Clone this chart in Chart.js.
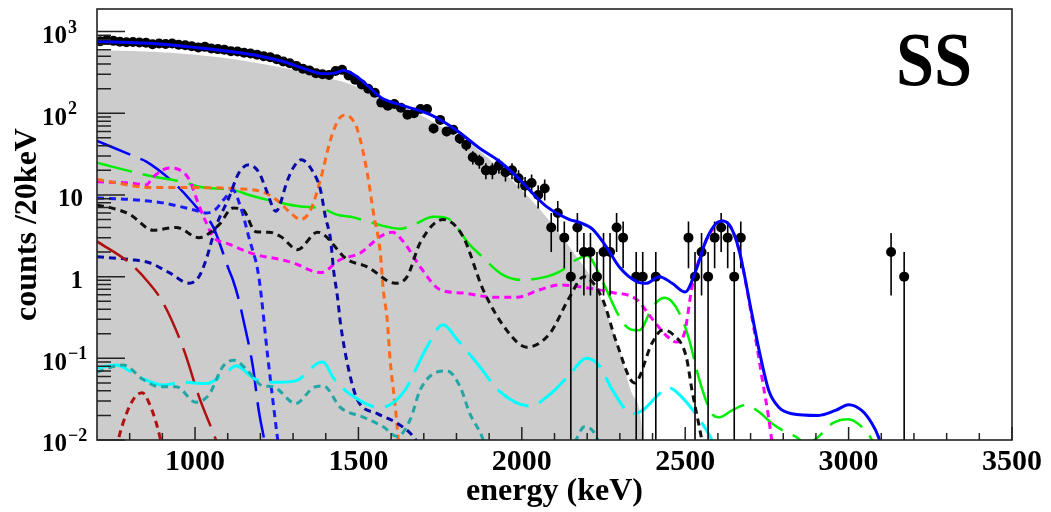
<!DOCTYPE html>
<html>
<head>
<meta charset="utf-8">
<script src="https://cdn.jsdelivr.net/npm/chart.js@4.4.1/dist/chart.umd.min.js"></script>
<style>
  html, body { margin: 0; padding: 0; background: #fff; }
  #wrap { width: 1051px; height: 512px; }
</style>
</head>
<body>
<div id="wrap"><canvas id="spectrum" width="1051" height="512"></canvas></div>
<script>
// axis ticks
var X_TICKS = [1000, 1500, 2000, 2500, 3000, 3500];
var Y_TICKS = [0.01, 0.1, 1, 10, 100, 1000];
var Y_TICK_BASE = ['10', '10', '1', '10', '10', '10'];
var Y_TICK_EXP = ['-2', '-1', '', '', '2', '3'];

// measured spectrum, counts per 20 keV bin
var DATA_E = [710, 730, 750, 770, 790, 810, 830, 850, 870, 890, 910, 930, 950, 970, 990,
  1010, 1030, 1050, 1070, 1090, 1110, 1130, 1150, 1170, 1190, 1210, 1230, 1250, 1270, 1290,
  1310, 1330, 1350, 1370, 1390, 1410, 1430, 1450, 1470, 1490, 1510, 1530, 1550, 1570, 1590,
  1610, 1630, 1650, 1670, 1690, 1710, 1730, 1750, 1770, 1790, 1810, 1830, 1850, 1870, 1890,
  1910, 1930, 1950, 1970, 1990, 2010, 2030, 2050, 2070, 2090, 2110, 2130, 2150, 2170, 2190,
  2210, 2230, 2250, 2270, 2290, 2310, 2350, 2370, 2410, 2510, 2530, 2550, 2570, 2590, 2610,
  2630, 2650, 2670, 3130, 3170];
var DATA_N = [760, 790, 770, 750, 740, 745, 735, 730, 700, 715, 705, 715, 690, 680, 660,
  640, 650, 620, 610, 600, 575, 570, 550, 540, 520, 500, 485, 460, 430, 410,
  380, 350, 335, 310, 300, 295, 330, 340, 290, 258, 225, 200, 178, 135, 124,
  130, 117, 96, 100, 113, 113, 65, 83, 60, 63, 49, 41, 29, 26, 20,
  20, 23, 19, 20, 16, 13, 14, 10, 12, 4, 6, 3, 1, 4, 2,
  2, 1, 2, 2, 4, 3, 1, 1, 1, 3, 1, 2, 1, 3, 4,
  3, 1, 3, 2, 1];

// total fit
var TOTAL_E = [700, 750, 800, 900, 1000, 1100, 1200, 1270, 1340, 1390, 1425, 1455, 1490, 1530,
  1570, 1620, 1720, 1800, 1872, 1930, 1994, 2040, 2076, 2146, 2177, 2217, 2259, 2299, 2351,
  2381, 2421, 2460, 2500, 2533, 2564, 2595, 2615, 2640, 2665, 2704, 2726, 2756, 2787, 2826,
  2908, 2960, 3000, 3040, 3071, 3091, 3110];
var TOTAL_V = [750, 745, 735, 700, 640, 575, 500, 430, 345, 305, 310, 335, 290, 215,
  155, 130, 96, 62, 37, 26, 15.4, 9.8, 7.2, 5.0, 4.6, 3.8, 2.3, 1.3, 0.87,
  0.83, 1.0, 0.83, 0.65, 1.2, 2.8, 4.5, 4.8, 4.0, 2.1, 0.35, 0.126, 0.04, 0.025, 0.021,
  0.02, 0.023, 0.027, 0.023, 0.016, 0.011, 0.006];

// grey filled component
var GREY_E = [700, 850, 1000, 1150, 1300, 1400, 1450, 1550, 1650, 1750, 1850, 1950, 2050,
  2150, 2230, 2300, 2340, 2370, 2375];
var GREY_V = [590, 570, 520, 440, 340, 270, 245, 170, 115, 70, 40, 18, 7,
  2.2, 0.7, 0.12, 0.035, 0.01, 0.001];

// fit components
var BLUE_LD_E = [700, 820, 851, 942, 1003, 1055, 1104, 1116, 1134, 1146, 1177, 1195, 1212, 1230];
var BLUE_LD_V = [46, 29, 25.6, 13.3, 7.2, 4.1, 1.2, 0.91, 0.52, 0.32, 0.079, 0.023, 0.01, 0.004];

var GREEN_E = [700, 820, 860, 973, 1012, 1125, 1165, 1262, 1323, 1384, 1436, 1476, 1588, 1628,
  1668, 1729, 1771, 1841, 1872, 1942, 2003, 2076, 2116, 2168, 2200, 2247, 2299, 2329, 2360,
  2399, 2436, 2460, 2491, 2512, 2543, 2582, 2604, 2643, 2686, 2726, 2765, 2800, 2838, 2870,
  2908, 2950, 3000, 3036, 3071, 3090];
var GREEN_V = [24.8, 18.7, 17.2, 14.1, 12.6, 11.3, 10, 8.0, 7.2, 6.9, 5.7, 5.4, 4.07, 3.85,
  4.3, 5.4, 5.2, 2.45, 1.86, 1.05, 0.91, 1.0, 1.15, 1.62, 1.8, 0.87, 0.32, 0.23, 0.22,
  0.42, 0.55, 0.49, 0.30, 0.17, 0.055, 0.021, 0.019, 0.023, 0.027, 0.022, 0.016, 0.013, 0.011, 0.009,
  0.011, 0.016, 0.018, 0.015, 0.01, 0.006];

var ORANGE_E = [700, 759, 829, 902, 1003, 1125, 1207, 1256, 1299, 1323, 1354, 1384, 1415, 1440,
  1460, 1480, 1497, 1527, 1546, 1567, 1576, 1588, 1597, 1613, 1622, 1630];
var ORANGE_V = [15.5, 14.1, 12.6, 12.3, 12.3, 11.9, 10.9, 8.3, 5.7, 5.0, 6.6, 15.5, 48, 85,
  95, 85, 63, 18.6, 6.0, 1.95, 0.69, 0.30, 0.095, 0.025, 0.01, 0.004];

var MAGENTA_E = [700, 800, 851, 872, 921, 951, 982, 1009, 1034, 1055, 1104, 1186, 1262, 1299,
  1384, 1445, 1506, 1567, 1604, 1637, 1689, 1750, 1820, 1912, 1985, 2055, 2116, 2177, 2277,
  2350, 2400, 2442, 2473, 2497, 2521, 2550, 2582, 2615, 2640, 2665, 2704, 2735, 2762, 2775];
var MAGENTA_V = [14.5, 14, 13.3, 16.6, 21.4, 20.4, 15.5, 8.0, 4.6, 3.1, 2.5, 1.86, 1.62, 1.48,
  1.12, 1.62, 1.95, 3.1, 3.5, 2.7, 1.32, 0.69, 0.63, 0.56, 0.56, 0.69, 0.79, 0.75, 0.64,
  0.53, 0.30, 0.19, 0.158, 0.2, 0.75, 2.0, 3.7, 4.8, 4.0, 2.1, 0.32, 0.058, 0.012, 0.004];

var BLACK_E = [700, 740, 800, 872, 942, 1012, 1073, 1116, 1146, 1186, 1226, 1262, 1314, 1375,
  1466, 1527, 1613, 1649, 1689, 1759, 1820, 1881, 1954, 2015, 2085, 2146, 2190, 2247, 2290,
  2345, 2399, 2430, 2460, 2503, 2521, 2543, 2555, 2570];
var BLACK_V = [7.5, 7.0, 5.8, 3.7, 4.0, 3.0, 4.3, 6.9, 6.6, 3.55, 3.5, 3.1, 2.14, 3.5,
  1.62, 1.32, 0.83, 1.0, 2.6, 5.0, 3.1, 0.7, 0.22, 0.137, 0.20, 0.56, 1.0, 0.53, 0.155,
  0.05, 0.155, 0.22, 0.2, 0.105, 0.04, 0.0145, 0.008, 0.003];

var BLUE_DOT_E = [700, 800, 900, 1000, 1034, 1060, 1090, 1116, 1140, 1165, 1195, 1223, 1253, 1270];
var BLUE_DOT_V = [9.2, 8.8, 8.0, 6.5, 6.0, 6.5, 9.0, 11.4, 7.0, 3.0, 1.0, 0.1, 0.01, 0.003];

var NAVY_DOT_E = [700, 799, 860, 921, 982, 1012, 1034, 1064, 1104, 1134, 1165, 1195, 1220, 1247,
  1284, 1302, 1325, 1363, 1384, 1399, 1415, 1424, 1436, 1445, 1466, 1497, 1558, 1619, 1668, 1690];
var NAVY_DOT_V = [1.75, 1.62, 1.48, 1.12, 0.83, 1.0, 1.62, 4.1, 9.3, 18.6, 23.4, 19, 11, 6.3,
  15.5, 22, 27, 18.6, 11.5, 5.4, 2.8, 1.2, 0.56, 0.27, 0.087, 0.031, 0.021, 0.016, 0.011, 0.008];

var DRED_LD_E = [700, 799, 851, 902, 966, 1012, 1064, 1090];
var DRED_LD_V = [2.7, 1.48, 0.91, 0.48, 0.126, 0.034, 0.01, 0.005];

var DRED_DOT_E = [745, 765, 790, 815, 838, 860, 890, 905];
var DRED_DOT_V = [0.004, 0.01, 0.021, 0.033, 0.038, 0.028, 0.012, 0.006];

var CYAN_E = [700, 759, 829, 902, 963, 1034, 1104, 1125, 1186, 1256, 1308, 1375, 1392, 1424,
  1485, 1567, 1637, 1710, 1759, 1802, 1863, 1933, 2024, 2095, 2146, 2198, 2238, 2277, 2338,
  2369, 2421, 2446, 2482, 2552, 2582, 2600];
var CYAN_V = [0.076, 0.083, 0.059, 0.047, 0.051, 0.049, 0.072, 0.081, 0.055, 0.051, 0.053, 0.087, 0.09, 0.057,
  0.034, 0.025, 0.038, 0.138, 0.257, 0.17, 0.087, 0.039, 0.026, 0.039, 0.063, 0.1, 0.08, 0.041, 0.021,
  0.023, 0.037, 0.044, 0.036, 0.016, 0.01, 0.007];

var TEAL_E = [700, 780, 841, 890, 942, 1003, 1043, 1085, 1119, 1155, 1207, 1238, 1308, 1363,
  1393, 1445, 1515, 1576, 1619, 1659, 1689, 1741, 1771, 1811, 1841, 1878, 1900, 2100, 2160,
  2192, 2228, 2260];
var TEAL_V = [0.068, 0.083, 0.055, 0.045, 0.045, 0.029, 0.036, 0.079, 0.095, 0.075, 0.046, 0.045, 0.028, 0.044,
  0.046, 0.025, 0.019, 0.0145, 0.011, 0.018, 0.041, 0.068, 0.07, 0.045, 0.021, 0.011, 0.006, 0.003, 0.009,
  0.0145, 0.011, 0.004];

function pairs(xs, ys) {
  return xs.map(function (x, i) { return { x: x, y: ys[i] }; });
}

var LONG_DASH = [36, 11];
var SHORT_DASH = [7, 5];
var SERIF = '"Liberation Serif", "Times New Roman", serif';

function curve(xs, ys, color, dash, width) {
  return {
    type: 'line',
    data: pairs(xs, ys),
    borderColor: color,
    borderWidth: width,
    borderDash: dash,
    borderCapStyle: 'butt',
    pointRadius: 0,
    cubicInterpolationMode: 'monotone',
    fill: false,
    order: 5,
  };
}

var datasets = [
  {
    type: 'line',
    data: pairs(GREY_E, GREY_V),
    borderWidth: 0,
    backgroundColor: '#cccccc',
    pointRadius: 0,
    cubicInterpolationMode: 'monotone',
    fill: 'start',
    order: 10,
  },
  curve(TEAL_E, TEAL_V, '#22a6a6', SHORT_DASH, 3),
  curve(CYAN_E, CYAN_V, '#00ffff', LONG_DASH, 3),
  curve(DRED_DOT_E, DRED_DOT_V, '#b01010', SHORT_DASH, 3),
  curve(DRED_LD_E, DRED_LD_V, '#b01010', LONG_DASH, 2.5),
  curve(NAVY_DOT_E, NAVY_DOT_V, '#0a0aa8', SHORT_DASH, 3),
  curve(BLUE_DOT_E, BLUE_DOT_V, '#1a1aff', SHORT_DASH, 3),
  curve(BLACK_E, BLACK_V, '#111111', SHORT_DASH, 3),
  curve(ORANGE_E, ORANGE_V, '#ff6a1a', SHORT_DASH, 3),
  curve(MAGENTA_E, MAGENTA_V, '#ff00ff', SHORT_DASH, 3),
  curve(GREEN_E, GREEN_V, '#00ee00', LONG_DASH, 2.5),
  curve(BLUE_LD_E, BLUE_LD_V, '#0000ff', LONG_DASH, 2.5),
  {
    type: 'line',
    data: pairs(DATA_E, DATA_N),
    showLine: false,
    pointRadius: 5,
    pointBackgroundColor: '#000',
    pointBorderWidth: 0,
    order: 2,
    isData: true,
  },
  {
    type: 'line',
    data: pairs(TOTAL_E, TOTAL_V),
    borderColor: '#0000ff',
    borderWidth: 3,
    pointRadius: 0,
    cubicInterpolationMode: 'monotone',
    fill: false,
    order: 1,
  },
];

// error bars, inner tick marks, frame, power-of-ten labels and the "SS" label
var rootStyle = {
  id: 'rootStyle',
  afterDatasetDraw: function (chart, args) {
    if (!args.meta._dataset.isData) return;
    var ctx = chart.ctx, xs = chart.scales.x, ys = chart.scales.y, area = chart.chartArea;
    ctx.save();
    ctx.strokeStyle = '#000';
    ctx.lineWidth = 1.6;
    ctx.beginPath();
    DATA_E.forEach(function (e, i) {
      var n = DATA_N[i], err = Math.sqrt(n);
      var px = xs.getPixelForValue(e);
      var top = ys.getPixelForValue(n + err);
      var bot = n - err > 0 ? ys.getPixelForValue(n - err) : area.bottom;
      bot = Math.min(bot, area.bottom);
      ctx.moveTo(px, top);
      ctx.lineTo(px, bot);
    });
    ctx.stroke();
    ctx.restore();
  },
  afterDraw: function (chart) {
    var ctx = chart.ctx, xs = chart.scales.x, ys = chart.scales.y, a = chart.chartArea;
    ctx.save();
    ctx.strokeStyle = '#222';
    ctx.lineWidth = 1.5;
    ctx.beginPath();
    for (var d = -2; d <= 3; d++) {
      for (var k = 1; k <= 9; k++) {
        var v = k * Math.pow(10, d);
        if (v > ys.max) break;
        var py = ys.getPixelForValue(v);
        ctx.moveTo(a.left, py);
        ctx.lineTo(a.left + (k === 1 ? 28 : 14), py);
      }
    }
    for (var e = 800; e <= 3500; e += 100) {
      var px = xs.getPixelForValue(e);
      ctx.moveTo(px, a.bottom);
      ctx.lineTo(px, a.bottom - (e % 500 === 0 ? 13 : 7));
    }
    ctx.stroke();
    ctx.lineWidth = 1.6;
    ctx.strokeRect(a.left, a.top, a.right - a.left, a.bottom - a.top);

    ctx.fillStyle = '#000';
    Y_TICKS.forEach(function (t, i) {
      var y = ys.getPixelForValue(t);
      var exp = Y_TICK_EXP[i];
      ctx.font = 'bold 25px ' + SERIF;
      ctx.textBaseline = 'middle';
      ctx.textAlign = 'right';
      if (exp) {
        var bx = a.left - 30;
        ctx.fillText(Y_TICK_BASE[i], bx, y + 5);
        ctx.font = 'bold 18px ' + SERIF;
        ctx.textAlign = 'left';
        ctx.textBaseline = 'alphabetic';
        ctx.fillText(exp.replace('-', '\u2212'), bx + 1, y + 1);
      } else {
        ctx.fillText(Y_TICK_BASE[i], a.left - 14, y + 5);
      }
    });

    ctx.font = 'bold 76px ' + SERIF;
    ctx.textAlign = 'right';
    ctx.textBaseline = 'alphabetic';
    ctx.translate(a.right - 40, a.top + 76);
    ctx.scale(0.9, 1);
    ctx.fillText('SS', 0, 0);
    ctx.restore();
  },
};

Chart.defaults.font.family = SERIF;
Chart.defaults.color = '#000';

new Chart(document.getElementById('spectrum').getContext('2d'), {
  type: 'line',
  data: { datasets: datasets },
  options: {
    responsive: false,
    animation: false,
    layout: { padding: { top: 9, right: 39, left: 0, bottom: 0 } },
    plugins: { legend: { display: false }, tooltip: { enabled: false } },
    scales: {
      x: {
        type: 'linear',
        min: 700,
        max: 3500,
        grid: { display: false, drawTicks: false },
        border: { display: false },
        afterBuildTicks: function (s) { s.ticks = X_TICKS.map(function (v) { return { value: v }; }); },
        afterFit: function (s) { s.height = 72; s.paddingLeft = 0; s.paddingRight = 0; },
        ticks: {
          font: { size: 30, weight: 'bold' },
          padding: 4,
          maxRotation: 0,
          autoSkip: false,
          callback: function (v) { return String(v); },
        },
        title: {
          display: true,
          text: 'energy (keV)',
          font: { size: 32, weight: 'bold' },
          padding: { top: 0, bottom: 1 },
        },
      },
      y: {
        type: 'logarithmic',
        min: 0.01,
        max: 1890,
        grid: { display: false, drawTicks: false },
        border: { display: false },
        afterBuildTicks: function (s) { s.ticks = Y_TICKS.map(function (v) { return { value: v }; }); },
        afterFit: function (s) { s.width = 97; s.paddingTop = 0; s.paddingBottom = 0; },
        ticks: { display: false },
        title: {
          display: true,
          text: 'counts /20keV',
          font: { size: 32, weight: 'bold' },
          padding: { top: 9, bottom: 0 },
        },
      },
    },
  },
  plugins: [rootStyle],
});
</script>
</body>
</html>
